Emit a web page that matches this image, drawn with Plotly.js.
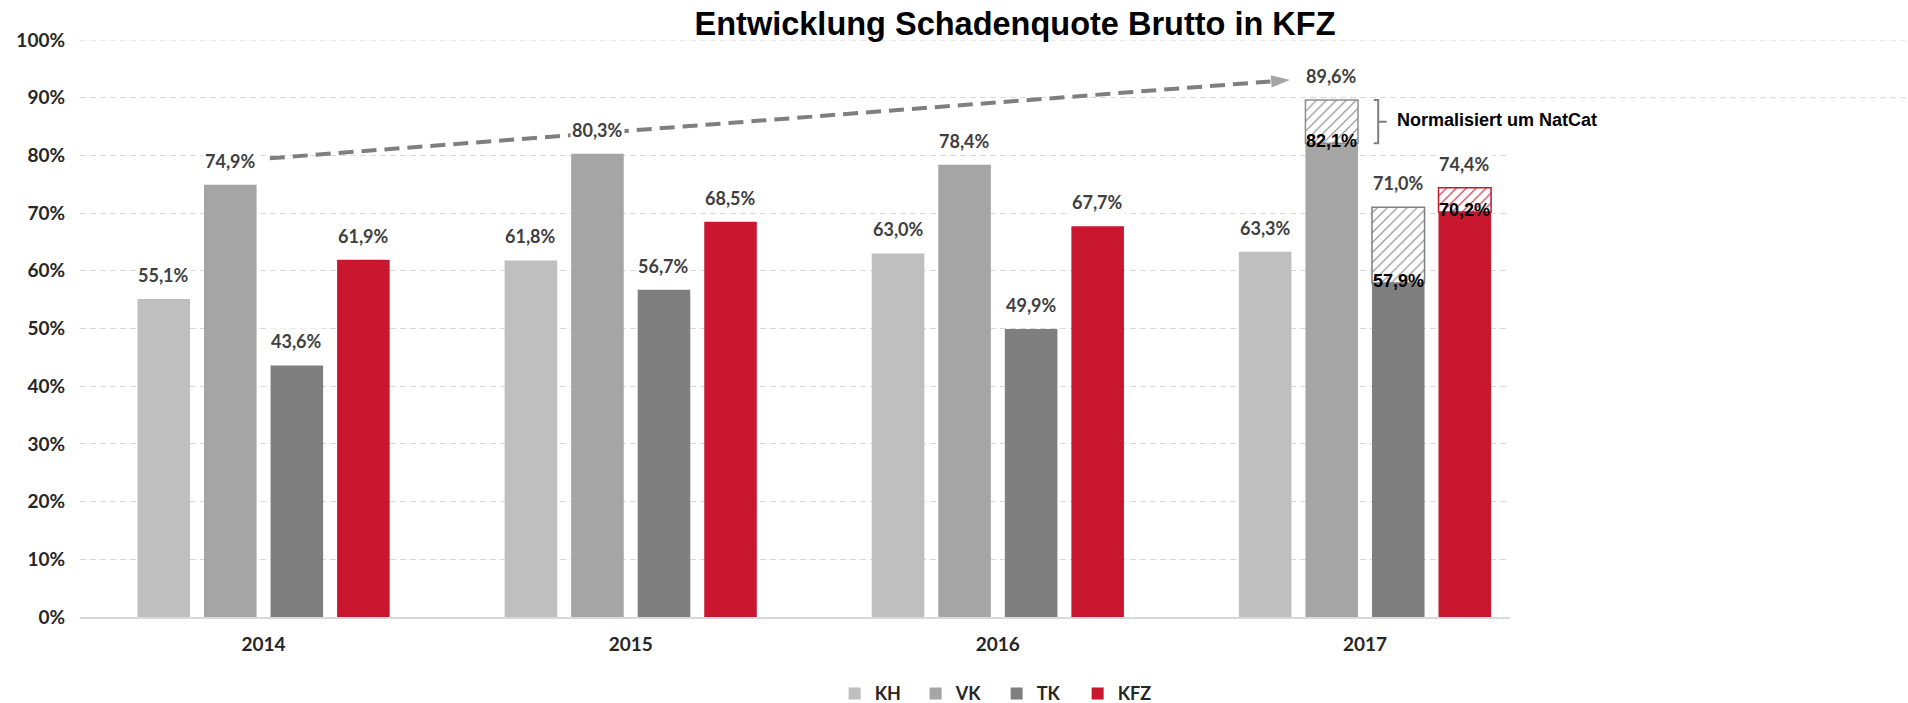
<!DOCTYPE html>
<html>
<head>
<meta charset="utf-8">
<script src="https://cdn.plot.ly/plotly-3.0.1.min.js"></script>
<style>html,body{margin:0;padding:0;background:#fff;}#chart{width:1908px;height:703px;}</style>
</head>
<body>
<div id="chart"></div>
<script>
// ---- data ----
const years = ['2014', '2015', '2016', '2017'];
const seriesNames = ['KH', 'VK', 'TK', 'KFZ'];
const kh  = [55.1, 61.8, 63.0, 63.3];
const vk  = [74.9, 80.3, 78.4, 82.1];   // 2017: normalisiert um NatCat
const tk  = [43.6, 56.7, 49.9, 57.9];   // 2017: normalisiert um NatCat
const kfz = [61.9, 68.5, 67.7, 70.2];   // 2017: normalisiert um NatCat
const vkGross  = [null, null, null, 89.6];
const tkGross  = [null, null, null, 71.0];
const kfzGross = [null, null, null, 74.4];
const trendX = [0.017, 2.80];   // category index units
const trendY = [79.5, 93.1];
const bracketNote = 'Normalisiert um NatCat';
const yTicks = [0, 10, 20, 30, 40, 50, 60, 70, 80, 90, 100];

// ---- style ----
const colors = ['#bfbfbf', '#a5a5a5', '#7f7f7f', '#c8172f'];
const hatchLine = ['#a5a5a5', '#8c8c8c', '#7f7f7f', '#c8172f'];
const bargap = 0.275, bargroupgap = 0.21;
const slot = (1 - bargap) / 4;
const barW = slot * (1 - bargroupgap);
const idx = years.map((_, i) => i);
const fmt = v => v.toFixed(1).replace('.', ',') + '%';
const labelFont = {family: 'Lato, sans-serif', size: 18, color: '#404040', weight: 'bold'};
const innerFont = {family: 'Liberation Sans, Arial, sans-serif', size: 18, color: '#000', weight: 'bold'};
const gridStyle = {color: '#d9d9d9', width: 1, dash: '6px,4px'};

const net = [kh, vk, tk, kfz];
const gross = [null, vkGross, tkGross, kfzGross];

const traces = [];
net.forEach((vals, s) => {
  traces.push({
    type: 'bar', name: seriesNames[s], x: idx, y: vals, offsetgroup: 'g' + s,
    marker: {color: colors[s], line: {width: 0}}, hoverinfo: 'skip', showlegend: true
  });
});
gross.forEach((g, s) => {
  if (!g) return;
  const xs = [], ys = [], bs = [];
  g.forEach((v, i) => { if (v != null) { xs.push(i); ys.push(v - net[s][i]); bs.push(net[s][i]); } });
  traces.push({
    type: 'bar', name: seriesNames[s] + ' NatCat', x: xs, y: ys, base: bs, offsetgroup: 'g' + s,
    showlegend: false, hoverinfo: 'skip',
    marker: {color: '#ffffff', line: {color: hatchLine[s], width: 1.5},
      pattern: {shape: '/', fgcolor: s === 3 ? '#c8172f' : '#7f7f7f', bgcolor: '#ffffff', size: 7, solidity: 0.15, fillmode: 'replace'}}
  });
});
// trend arrow
traces.push({
  type: 'scatter', mode: 'lines+markers', x: trendX, y: trendY, showlegend: false, hoverinfo: 'skip',
  line: {color: '#7f7f7f', width: 4, dash: '15px,8px', backoff: 'auto'},
  marker: {symbol: 'arrow', angleref: 'previous', size: [0, 22], color: '#7f7f7f'},
  cliponaxis: false
});

const annotations = [];
net.forEach((vals, s) => {
  vals.forEach((v, i) => {
    const x = i + (s - 1.5) * slot;
    const g = gross[s] ? gross[s][i] : null;
    const top = g != null ? g : v;
    annotations.push({x: x, y: top, xref: 'x', yref: 'y', text: fmt(top), showarrow: false,
      yanchor: 'middle', yshift: 24, font: labelFont, bgcolor: '#ffffff', borderpad: 1});
    if (g != null) {
      annotations.push({x: x, y: v, xref: 'x', yref: 'y', text: fmt(v), showarrow: false,
        yanchor: 'middle', yshift: 2, font: innerFont});
    }
  });
});
// bracket
const vkRight = 3 + (1 - 1.5) * slot + barW / 2;
const bx0 = vkRight + 0.043, bx1 = vkRight + 0.055, bx2 = vkRight + 0.078;
const bTop = vkGross[3], bBot = vk[3], bMid = (bTop + bBot) / 2;
annotations.push({x: vkRight + 0.101, y: bMid, xref: 'x', yref: 'y', text: bracketNote, showarrow: false,
  xanchor: 'left', yanchor: 'middle', yshift: 2,
  font: {family: 'Liberation Sans, Arial, sans-serif', size: 18, color: '#000', weight: 'bold'}});

const shapes = [
  {type: 'path', xref: 'x', yref: 'y',
   path: `M${bx0},${bTop} L${bx1},${bTop} L${bx1},${bBot} L${bx0},${bBot} M${bx1},${bMid} L${bx2},${bMid}`,
   line: {color: '#7f7f7f', width: 2}},
  {type: 'line', xref: 'paper', yref: 'y', x0: 0, x1: 1.28, y0: yTicks[10], y1: yTicks[10], layer: 'below', line: gridStyle},
  {type: 'line', xref: 'paper', yref: 'y', x0: 1, x1: 1.28, y0: yTicks[9], y1: yTicks[9], layer: 'below', line: gridStyle}
];

const layout = {
  width: 1908, height: 703,
  margin: {l: 80, r: 398, t: 40, b: 86, autoexpand: false},
  paper_bgcolor: '#fff', plot_bgcolor: '#fff',
  title: {text: 'Entwicklung Schadenquote Brutto in KFZ', x: 0.532, xanchor: 'center',
    y: 1 - 24 / 703, yanchor: 'middle', yref: 'container',
    font: {family: 'Liberation Sans, Arial, sans-serif', size: 32.5, color: '#000', weight: 'bold'}},
  barmode: 'group', bargap: bargap, bargroupgap: bargroupgap,
  xaxis: {type: 'linear', range: [-0.5, 3.395], tickvals: idx, ticktext: years, ticks: '',
    showgrid: false, zeroline: false, showline: true, linecolor: '#d9d9d9', linewidth: 1.5,
    ticklabelstandoff: 10, tickfont: {family: 'Lato, sans-serif', size: 19, color: '#262626', weight: 'bold'},
    fixedrange: true},
  yaxis: {range: [0, 100], tickvals: yTicks, ticktext: yTicks.map(v => v + '%'), ticks: '',
    showgrid: true, gridcolor: '#d9d9d9', griddash: '6px,4px', gridwidth: 1, zeroline: false, showline: false,
    ticklabelstandoff: 14, tickfont: {family: 'Lato, sans-serif', size: 19, color: '#262626', weight: 'bold'},
    fixedrange: true},
  showlegend: true,
  legend: {orientation: 'h', x: 0.641, xanchor: 'center', y: -0.133, yanchor: 'middle',
    font: {family: 'Lato, sans-serif', size: 18, color: '#262626', weight: 'bold'},
    entrywidth: 36, traceorder: 'normal', itemclick: false, itemdoubleclick: false},
  annotations: annotations,
  shapes: shapes
};

Plotly.newPlot('chart', traces, layout, {displayModeBar: false, staticPlot: true});
</script>
</body>
</html>
